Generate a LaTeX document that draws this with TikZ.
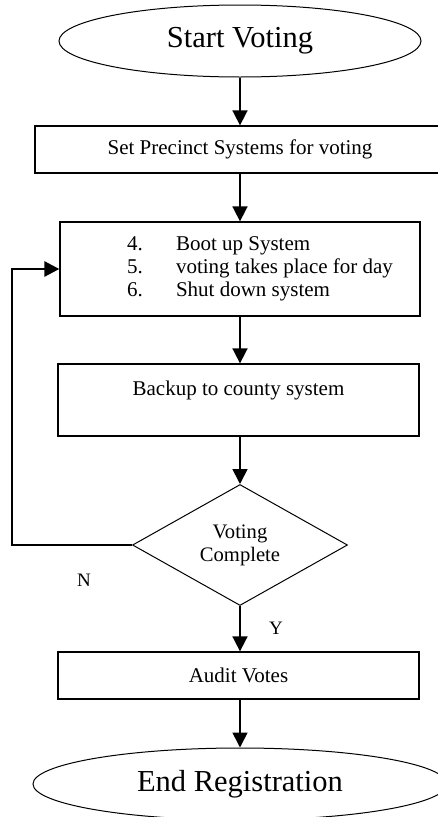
\documentclass[tikz,border=0pt]{standalone}
\usepackage{fontspec}
\setmainfont{Liberation Serif}
\usetikzlibrary{shapes.geometric,arrows.meta}
\tikzset{
  term/.style={ellipse,draw,line width=1pt,inner sep=0pt,font=\fontsize{30.5}{33}\selectfont},
  procbox/.style={rectangle,draw,line width=1.3pt,inner sep=0pt,font=\fontsize{21}{23}\selectfont,align=center},
  decide/.style={diamond,draw,line width=1pt,inner sep=0pt,aspect=1.77,font=\fontsize{20.6}{23}\selectfont,align=center},
  conn/.style={line width=1.7pt,-{Triangle[width=15pt,length=15pt]}},
  loopconn/.style={line width=2.8pt,-{Triangle[width=15pt,length=15pt]}},
  lbl/.style={inner sep=0pt,font=\fontsize{19}{21}\selectfont}
}
\begin{document}
\begin{tikzpicture}[x=1pt,y=-1pt]
\useasboundingbox (0,0) rectangle (438,817);
\node[term,minimum width=362pt,minimum height=72pt] (start) at (240,41) {Start Voting};
\node[procbox,minimum width=420pt,minimum height=47pt] (set) at (245,149.5) {\hspace*{-10pt}Set Precinct Systems for voting};
\node[procbox,minimum width=360pt,minimum height=94pt] (boot) at (240,269)
  {\hspace*{40pt}\begin{tabular}{@{}p{49pt}@{}l@{}}
  4. & Boot up System\\
  5. & voting takes place for day\\
  6. & Shut down system
  \end{tabular}};
\node[procbox,minimum width=361pt,minimum height=72pt] (backup) at (238.5,400) {Backup to county system\\ \mbox{}};
\node[decide,minimum width=215pt,minimum height=121pt] (done) at (240,545) {Voting\\Complete};
\node[procbox,minimum width=361pt,minimum height=47pt] (audit) at (238.5,675.5) {Audit Votes};
\node[term,minimum width=414pt,minimum height=72pt] (end) at (240,784) {End Registration};
\coordinate (loopA) at (12,545);
\draw[conn] (start.south) -- (set.north -| start.south);
\draw[conn] (set.south -| boot.north) -- (boot.north);
\draw[conn] (boot.south) -- (backup.north -| boot.south);
\draw[conn] (backup.south -| done.north) -- (done.north);
\draw[conn] (done.south) -- (audit.north -| done.south);
\draw[conn] (audit.south -| end.north) -- (end.north);
\draw[loopconn] (done.west) -- (loopA) |- (boot.west);
\node[lbl] (nlab) at (84,580) {N};
\node[lbl] (ylab) at (276,628) {Y};
\end{tikzpicture}
\end{document}
